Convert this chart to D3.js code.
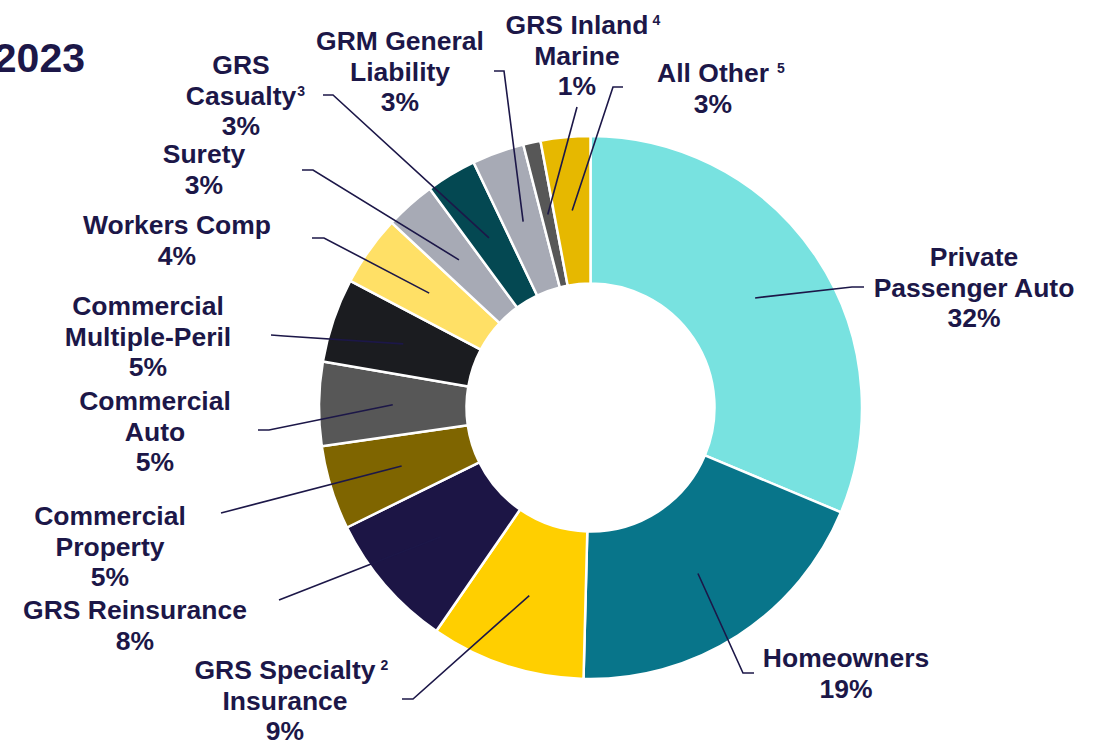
<!DOCTYPE html>
<html><head><meta charset="utf-8">
<script src="https://cdn.jsdelivr.net/npm/d3@7"></script>
<style>
html,body{margin:0;padding:0;background:#fff;}
svg{display:block;}
text{font-family:"Liberation Sans",Arial,sans-serif;font-weight:bold;fill:#1c1748;}
</style></head>
<body>
<svg id="chart" width="1102" height="744"></svg>
<script>
// ---- data ----
const categories = ["Private Passenger Auto","Homeowners","GRS Specialty Insurance","GRS Reinsurance",
  "Commercial Property","Commercial Auto","Commercial Multiple-Peril","Workers Comp","Surety",
  "GRS Casualty","GRM General Liability","GRS Inland Marine","All Other"];
const values = [31.3, 19.1, 9.2, 8.1, 5.0, 5.0, 5.0, 4.2, 3.0, 3.0, 3.1, 1.03, 2.95];
const pctLabels = ["32%","19%","9%","8%","5%","5%","5%","4%","3%","3%","3%","1%","3%"];
const labelLines = [["Private","Passenger Auto"],["Homeowners"],["GRS Specialty","Insurance"],["GRS Reinsurance"],
  ["Commercial","Property"],["Commercial","Auto"],["Commercial","Multiple-Peril"],["Workers Comp"],["Surety"],
  ["GRS","Casualty"],["GRM General","Liability"],["GRS Inland","Marine"],["All Other"]];
const footnotes = ["","","2","","","","","","","3","","4","5"];
const colors = ["#78e2e0","#08758a","#ffcf00","#1c1545","#7f6500","#575757","#1b1c20","#ffe066","#a7aab5",
  "#044852","#a7aab5","#575757","#e6b800"];
const title = "2023";

// ---- layout ----
const cx = 590.5, cy = 407.5, rOuter = 271.5, rInner = 124;
const lineH = 30.5;
// label block: center x, first baseline y, which line carries footnote, gap before footnote
const labelPos = [
  {x:974, y:266}, {x:846, y:667}, {x:285, y:679, fl:0, gap:5}, {x:135, y:619},
  {x:110, y:525}, {x:155, y:410}, {x:148, y:315}, {x:177, y:234}, {x:204, y:163},
  {x:241, y:74, fl:1, gap:1}, {x:400, y:50}, {x:577, y:34, fl:0, gap:4}, {x:713, y:82, fl:0, gap:8}
];
// leader lines: elbow and end point
const leaders = [
  [[852,287],[864,287]], [[743,673],[754,673]], [[413,699],[402,699]], [[279,600],[279,600]],
  [[221,513],[221,513]], [[269,430],[258,430]], [[284,336],[271,335]], [[324,238],[312,238]],
  [[313,170],[302,170]], [[333,95],[323,95]], [[504,71],[494,71]], [[577,107],[577,107]],
  [[613,87],[623,87]]
];
const fontSize = 25, xStretch = 1.06;

const svg = d3.select("#chart");

svg.append("text").attr("x", 85).attr("y", 72).attr("text-anchor","end")
  .style("font-size","41px").text(title);

const pie = d3.pie().sort(null).value(d => d).startAngle(0).endAngle(2*Math.PI);
const arcs = pie(values);
const arc = d3.arc().innerRadius(rInner).outerRadius(rOuter);

const g = svg.append("g").attr("transform", `translate(${cx},${cy})`);
g.selectAll("path.slice").data(arcs).join("path")
  .attr("class","slice")
  .attr("d", arc)
  .attr("fill", (d,i) => colors[i])
  .attr("stroke", "#ffffff")
  .attr("stroke-width", 2.5)
  .attr("stroke-linejoin","round");

// leader lines
const line = d3.line();
svg.selectAll("path.leader").data(arcs).join("path")
  .attr("class","leader")
  .attr("d", (d,i) => {
    const c = arc.centroid(d);
    return line([[cx + c[0], cy + c[1]], leaders[i][0], leaders[i][1]]);
  })
  .attr("fill","none").attr("stroke","#1c1748").attr("stroke-width",1.6);

// labels
categories.forEach((cat, i) => {
  const p = labelPos[i];
  const lines = labelLines[i].concat([pctLabels[i]]);
  lines.forEach((ln, k) => {
    const by = p.y + k * lineH;
    const t = svg.append("text")
      .attr("text-anchor","middle")
      .attr("transform", `translate(${p.x},${by}) scale(${xStretch},1)`)
      .style("font-size", fontSize + "px")
      .text(ln);
    if (footnotes[i] && p.fl === k) {
      const w = t.node().getComputedTextLength() * xStretch;
      svg.append("text")
        .attr("x", p.x + w/2 + p.gap)
        .attr("y", by - 9)
        .style("font-size","14px")
        .text(footnotes[i]);
    }
  });
});
</script>
</body></html>
